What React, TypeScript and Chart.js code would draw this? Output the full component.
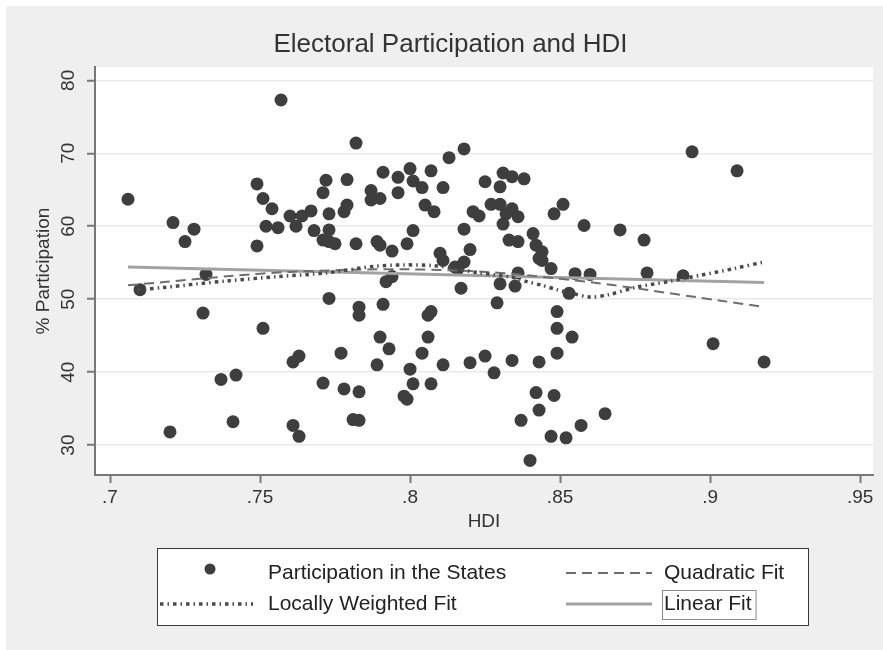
import React, { useEffect, useRef } from 'react';
import { Chart, registerables } from 'chart.js';

Chart.register(...registerables);

// ---- data ----
const hdi = [
  0.706, 0.710, 0.721, 0.725, 0.728, 0.732, 0.731, 0.720, 0.737, 0.742,
  0.741, 0.757, 0.749, 0.751, 0.754, 0.752, 0.756, 0.749, 0.760, 0.762,
  0.764, 0.767, 0.772, 0.771, 0.773, 0.768, 0.771, 0.773, 0.773, 0.775,
  0.778, 0.779, 0.779, 0.782, 0.773, 0.751, 0.763, 0.761, 0.777, 0.771,
  0.778, 0.783, 0.761, 0.763, 0.781, 0.783, 0.783, 0.783, 0.782, 0.791,
  0.796, 0.800, 0.807, 0.801, 0.804, 0.811, 0.796, 0.787, 0.787, 0.790,
  0.805, 0.808, 0.821, 0.823, 0.825, 0.818, 0.801, 0.789, 0.790, 0.794,
  0.799, 0.820, 0.810, 0.811, 0.818, 0.815, 0.816, 0.792, 0.794, 0.817,
  0.791, 0.807, 0.806, 0.790, 0.793, 0.806, 0.804, 0.789, 0.800, 0.811,
  0.820, 0.825, 0.801, 0.807, 0.798, 0.799, 0.831, 0.834, 0.830, 0.838,
  0.827, 0.830, 0.834, 0.832, 0.836, 0.831, 0.851, 0.848, 0.858, 0.841,
  0.833, 0.836, 0.842, 0.844, 0.843, 0.844, 0.847, 0.836, 0.855, 0.860,
  0.830, 0.835, 0.853, 0.829, 0.849, 0.849, 0.854, 0.849, 0.834, 0.843,
  0.828, 0.842, 0.848, 0.843, 0.865, 0.837, 0.857, 0.847, 0.852, 0.840,
  0.818, 0.813, 0.894, 0.909, 0.870, 0.878, 0.879, 0.891, 0.901, 0.918,
];
const participation = [
  63.7, 51.3, 60.5, 57.9, 59.6, 53.4, 48.1, 31.8, 39.0, 39.6,
  33.2, 77.3, 65.8, 63.8, 62.4, 60.0, 59.8, 57.3, 61.4, 60.0,
  61.4, 62.1, 66.3, 64.6, 61.7, 59.4, 58.1, 59.5, 57.9, 57.6,
  62.0, 62.9, 66.4, 57.6, 50.1, 46.0, 42.2, 41.4, 42.6, 38.5,
  37.7, 37.3, 32.7, 31.2, 33.5, 33.4, 48.9, 47.8, 71.4, 67.4,
  66.7, 67.9, 67.6, 66.2, 65.3, 65.3, 64.6, 64.9, 63.6, 63.8,
  62.9, 62.0, 62.0, 61.4, 66.1, 59.6, 59.4, 57.9, 57.4, 56.6,
  57.6, 56.8, 56.3, 55.3, 55.1, 54.4, 54.2, 52.4, 53.1, 51.5,
  49.3, 48.3, 47.8, 44.8, 43.2, 44.8, 42.6, 41.0, 40.4, 41.0,
  41.3, 42.2, 38.4, 38.4, 36.7, 36.3, 67.3, 66.8, 65.4, 66.5,
  63.0, 63.0, 62.4, 61.7, 61.3, 60.3, 63.0, 61.7, 60.1, 59.0,
  58.1, 57.9, 57.4, 56.5, 55.6, 55.3, 54.2, 53.6, 53.5, 53.4,
  52.1, 51.8, 50.8, 49.5, 48.3, 46.0, 44.8, 42.6, 41.6, 41.4,
  39.9, 37.2, 36.8, 34.8, 34.3, 33.4, 32.7, 31.2, 31.0, 27.9,
  70.6, 69.4, 70.2, 67.6, 59.5, 58.1, 53.6, 53.2, 43.9, 41.4,
];

const linearX = [0.706, 0.918];
const linearY = [54.4, 52.3];

const quadX = [0.706, 0.73, 0.75, 0.77, 0.79, 0.81, 0.83, 0.85, 0.87, 0.89, 0.917];
const quadY = [51.9, 52.8, 53.5, 53.9, 54.1, 54.0, 53.6, 52.8, 51.8, 50.6, 49.0];

const lowessX = [0.709, 0.718, 0.729, 0.739, 0.756, 0.772, 0.788, 0.798, 0.808, 0.815, 0.823, 0.834, 0.839, 0.844, 0.849, 0.854, 0.86, 0.866, 0.876, 0.886, 0.897, 0.908, 0.918];
const lowessY = [51.3, 51.6, 52.1, 52.5, 53.1, 53.6, 54.5, 54.7, 54.6, 54.2, 53.6, 53.0, 52.4, 51.9, 51.3, 50.8, 50.3, 50.6, 51.7, 52.4, 53.3, 54.2, 55.1];

const xTickValues = [0.7, 0.75, 0.8, 0.85, 0.9, 0.95];
const xTickLabels = ['.7', '.75', '.8', '.85', '.9', '.95'];
const yTickValues = [30, 40, 50, 60, 70, 80];
const yTickLabels = ['30', '40', '50', '60', '70', '80'];

const titleText = 'Electoral Participation and HDI';
const xTitle = 'HDI';
const yTitle = '% Participation';
const seriesNames = ['Participation in the States', 'Quadratic Fit', 'Locally Weighted Fit', 'Linear Fit'];

const FONT = "'Liberation Sans', Arial, Helvetica, sans-serif";
const DOT = '#3e3e3e';
const LIN = '#a2a2a2';
const QUAD = '#6e6e6e';
const LOW = '#4a4a4a';
const QUAD_DASH = [10, 6];
const LOW_DASH = [3.5, 4, 1.5, 4];

const toPts = (xs: number[], ys: number[]) => xs.map((x, i) => ({ x, y: ys[i] }));

export default function App() {
  const ref = useRef<HTMLCanvasElement>(null);

  useEffect(() => {
    if (!ref.current) return;

    const bgPlugin = {
      id: 'bg',
      beforeDraw(chart: any) {
        const { ctx, chartArea: a } = chart;
        ctx.save();
        ctx.fillStyle = '#ffffff';
        ctx.fillRect(0, 0, chart.width, chart.height);
        ctx.fillStyle = '#efefef';
        ctx.fillRect(6, 6, chart.width - 6, chart.height - 6);
        ctx.fillStyle = '#ffffff';
        ctx.fillRect(a.left, a.top, a.right - a.left, a.bottom - a.top);
        ctx.restore();
      },
    };

    const legendPlugin = {
      id: 'stataLegend',
      afterDraw(chart: any) {
        const ctx = chart.ctx;
        ctx.save();
        const bx = 157, by = 548, bw = 651, bh = 77;
        ctx.fillStyle = '#ffffff';
        ctx.fillRect(bx, by, bw, bh);
        ctx.strokeStyle = '#3a3a3a';
        ctx.lineWidth = 1;
        ctx.strokeRect(bx + 0.5, by + 0.5, bw, bh);

        const r1 = 573, r2 = 604;
        // marker
        ctx.fillStyle = DOT;
        ctx.beginPath();
        ctx.arc(210, r1 - 4, 5.5, 0, Math.PI * 2);
        ctx.fill();
        // quadratic sample
        ctx.strokeStyle = QUAD;
        ctx.lineWidth = 2;
        ctx.setLineDash(QUAD_DASH);
        ctx.beginPath();
        ctx.moveTo(566, r1);
        ctx.lineTo(652, r1);
        ctx.stroke();
        // lowess sample
        ctx.strokeStyle = LOW;
        ctx.lineWidth = 3.5;
        ctx.setLineDash(LOW_DASH);
        ctx.beginPath();
        ctx.moveTo(160, r2);
        ctx.lineTo(253, r2);
        ctx.stroke();
        // linear sample
        ctx.setLineDash([]);
        ctx.strokeStyle = LIN;
        ctx.lineWidth = 3;
        ctx.beginPath();
        ctx.moveTo(566, r2);
        ctx.lineTo(652, r2);
        ctx.stroke();

        ctx.fillStyle = '#222222';
        ctx.font = `21px ${FONT}`;
        ctx.textBaseline = 'middle';
        ctx.textAlign = 'left';
        ctx.fillText(seriesNames[0], 268, r1);
        ctx.fillText(seriesNames[1], 664, r1);
        ctx.fillText(seriesNames[2], 268, r2);
        ctx.fillText(seriesNames[3], 664, r2);

        const w = ctx.measureText(seriesNames[3]).width;
        ctx.strokeStyle = '#8a8a8a';
        ctx.lineWidth = 1;
        ctx.strokeRect(662.5, 590.5, w + 6, 29);
        ctx.restore();
      },
    };

    const chart = new Chart(ref.current, {
      type: 'scatter',
      data: {
        datasets: [
          {
            label: seriesNames[1],
            data: toPts(quadX, quadY),
            showLine: true,
            borderColor: QUAD,
            borderWidth: 2,
            borderDash: QUAD_DASH,
            pointRadius: 0,
            tension: 0.4,
            order: 2,
          },
          {
            label: seriesNames[2],
            data: toPts(lowessX, lowessY),
            showLine: true,
            borderColor: LOW,
            borderWidth: 3.5,
            borderDash: LOW_DASH,
            pointRadius: 0,
            tension: 0.3,
            order: 1,
          },
          {
            label: seriesNames[3],
            data: toPts(linearX, linearY),
            showLine: true,
            borderColor: LIN,
            borderWidth: 3,
            pointRadius: 0,
            order: 3,
          },
          {
            label: seriesNames[0],
            data: toPts(hdi, participation),
            showLine: false,
            pointRadius: 6.5,
            pointBackgroundColor: DOT,
            pointBorderColor: DOT,
            pointBorderWidth: 0,
            order: 10,
          },
        ],
      },
      options: {
        animation: false,
        responsive: false,
        events: [],
        layout: { padding: { left: 28, right: 10, top: 0, bottom: 113 } },
        plugins: {
          legend: { display: false },
          tooltip: { enabled: false },
          title: {
            display: true,
            text: titleText,
            color: '#333333',
            font: { family: FONT, size: 26, weight: 'normal' },
            padding: { top: 29, bottom: 7 },
          },
        },
        scales: {
          x: {
            type: 'linear',
            min: 0.695,
            max: 0.9543,
            afterBuildTicks: (scale: any) => {
              scale.ticks = xTickValues.map((v) => ({ value: v }));
            },
            afterFit: (scale: any) => {
              scale.height = 62;
            },
            ticks: {
              callback: (_v: any, i: number) => xTickLabels[i],
              color: '#333333',
              font: { family: FONT, size: 19 },
              padding: 3,
              maxRotation: 0,
              minRotation: 0,
            },
            grid: {
              drawOnChartArea: false,
              drawTicks: true,
              tickLength: 8,
              tickColor: '#777777',
              tickWidth: 2,
            },
            border: { display: true, color: '#777777', width: 2 },
            title: {
              display: true,
              text: xTitle,
              color: '#333333',
              font: { family: FONT, size: 19 },
              padding: { top: 4, bottom: 4 },
            },
          },
          y: {
            type: 'linear',
            min: 25.9,
            max: 81.8,
            afterBuildTicks: (scale: any) => {
              scale.ticks = yTickValues.map((v) => ({ value: v }));
            },
            afterFit: (scale: any) => {
              scale.width = 67;
            },
            ticks: {
              callback: (_v: any, i: number) => yTickLabels[i],
              color: '#333333',
              font: { family: FONT, size: 19 },
              padding: 8,
              minRotation: 90,
              maxRotation: 90,
              crossAlign: 'center',
            },
            grid: {
              color: '#e9e9e9',
              lineWidth: 1.5,
              drawTicks: true,
              tickLength: 8,
              tickColor: '#777777',
              tickWidth: 2,
            },
            border: { display: true, color: '#777777', width: 2 },
            title: {
              display: true,
              text: yTitle,
              color: '#333333',
              font: { family: FONT, size: 19 },
              padding: { top: 4, bottom: 4 },
            },
          },
        },
      },
      plugins: [bgPlugin, legendPlugin],
    } as any);

    return () => chart.destroy();
  }, []);

  return (
    <div style={{ position: 'absolute', left: 0, top: 0, width: 883, height: 650 }}>
      <canvas ref={ref} width={883} height={650} style={{ display: 'block', width: 883, height: 650 }} />
    </div>
  );
}
